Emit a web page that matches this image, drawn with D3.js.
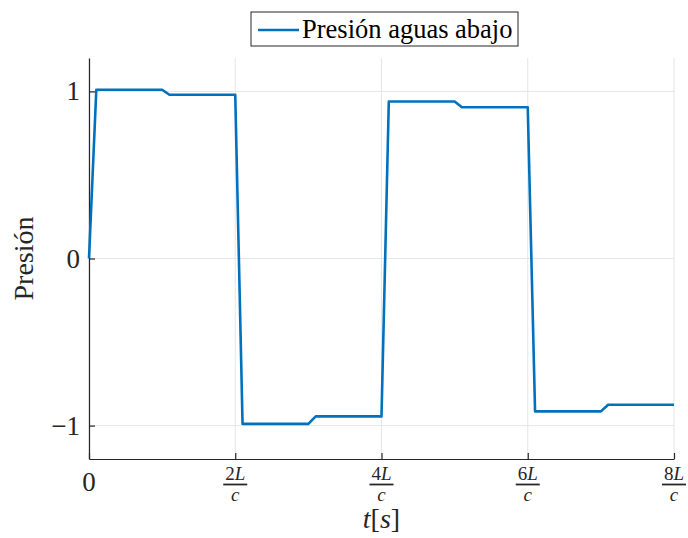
<!DOCTYPE html>
<html>
<head>
<meta charset="utf-8">
<script src="https://d3js.org/d3.v7.min.js"></script>
<style>
  body { margin: 0; background: #fff; }
  text { font-family: "Liberation Serif", "Times New Roman", serif; fill: #262626; }
</style>
</head>
<body>
<div id="chart"></div>
<script>
// data (t in units of L/c)
const tVals = [0, 0.1, 1.0, 1.1, 2.0, 2.1, 3.0, 3.1, 4.0, 4.1, 5.0, 5.1, 6.0, 6.1, 7.0, 7.1, 8.0];
const pVals = [0, 1.01, 1.01, 0.98, 0.98, -0.99, -0.99, -0.945, -0.945, 0.94, 0.94, 0.905, 0.905, -0.915, -0.915, -0.875, -0.875];
const xTicks = [0, 2, 4, 6, 8];
const xTickNums = ["0", "2", "4", "6", "8"];
const yTicks = [-1, 0, 1];
const seriesName = "Presión aguas abajo";

const W = 688, H = 538;
const margin = {top: 58, right: 14, bottom: 79, left: 89};
const width = W - margin.left - margin.right,
      height = H - margin.top - margin.bottom;

const svg = d3.select("#chart").append("svg")
  .attr("width", W).attr("height", H);
const g = svg.append("g")
  .attr("transform", `translate(${margin.left}, ${margin.top})`);

const x = d3.scaleLinear().domain([0, 8]).range([0, width]);
const y = d3.scaleLinear().domain([-1.2, 1.2]).range([height, 0]);

// grid
g.append("g").selectAll("line").data(xTicks).join("line")
  .attr("x1", d => x(d)).attr("x2", d => x(d))
  .attr("y1", 0).attr("y2", height)
  .attr("stroke", "#e6e6e6").attr("stroke-width", 1);
g.append("g").selectAll("line").data(yTicks).join("line")
  .attr("x1", 0).attr("x2", width)
  .attr("y1", d => y(d)).attr("y2", d => y(d))
  .attr("stroke", "#e6e6e6").attr("stroke-width", 1);

// axes (ticks pointing inward)
const xAxis = g.append("g")
  .attr("transform", `translate(0, ${height})`)
  .call(d3.axisBottom(x).tickValues(xTicks).tickSizeInner(-6).tickSizeOuter(0).tickFormat(""));
const yAxis = g.append("g")
  .call(d3.axisLeft(y).tickValues(yTicks).tickSizeInner(-6).tickSizeOuter(0).tickFormat(""));
[xAxis, yAxis].forEach(a => {
  a.selectAll("path, line").attr("stroke", "#262626").attr("stroke-width", 1.2);
});

// y tick labels
g.append("g").selectAll("text").data(yTicks).join("text")
  .attr("x", -9).attr("y", d => y(d) + 9)
  .attr("text-anchor", "end")
  .style("font-size", "27px")
  .text(d => d < 0 ? "\u2212" + Math.abs(d) : d);

// x tick labels: 0 and fractions nL/c
const xl = g.append("g").attr("transform", `translate(0, ${height})`);
xTicks.forEach((d, i) => {
  const cx = x(d);
  if (d === 0) {
    xl.append("text").attr("x", cx).attr("y", 32)
      .attr("text-anchor", "middle").style("font-size", "27px").text(xTickNums[i]);
    return;
  }
  const num = xl.append("text").attr("x", cx).attr("y", 21)
    .attr("text-anchor", "middle").style("font-size", "19px");
  num.append("tspan").text(xTickNums[i]);
  num.append("tspan").style("font-style", "italic").text("L");
  xl.append("line").attr("x1", cx - 12).attr("x2", cx + 12)
    .attr("y1", 25.5).attr("y2", 25.5)
    .attr("stroke", "#262626").attr("stroke-width", 1.8);
  xl.append("text").attr("x", cx).attr("y", 42)
    .attr("text-anchor", "middle").style("font-size", "19px")
    .style("font-style", "italic").text("c");
});

// axis titles
const xt = svg.append("text")
  .attr("x", margin.left + width / 2).attr("y", 528)
  .attr("text-anchor", "middle").style("font-size", "28px");
xt.append("tspan").style("font-style", "italic").text("t");
xt.append("tspan").text("[");
xt.append("tspan").style("font-style", "italic").text("s");
xt.append("tspan").text("]");

svg.append("text")
  .attr("transform", `translate(33, ${margin.top + y(0)}) rotate(-90)`)
  .attr("text-anchor", "middle").style("font-size", "28px")
  .text("Presión");

// line
const pts = tVals.map((t, i) => [t, pVals[i]]);
g.append("path").datum(pts)
  .attr("fill", "none").attr("stroke", "#0072BD").attr("stroke-width", 2.6)
  .attr("stroke-linejoin", "round")
  .attr("d", d3.line().x(d => x(d[0])).y(d => y(d[1])));

// legend
const lg = svg.append("g").attr("transform", "translate(251, 12)");
lg.append("rect").attr("width", 267).attr("height", 34)
  .attr("fill", "#fff").attr("stroke", "#262626").attr("stroke-width", 1);
lg.append("line").attr("x1", 7).attr("x2", 48).attr("y1", 18).attr("y2", 18)
  .attr("stroke", "#0072BD").attr("stroke-width", 2.6);
lg.append("text").attr("x", 51).attr("y", 26).style("font-size", "26.5px")
  .style("fill", "#000").text(seriesName);
</script>
</body>
</html>
